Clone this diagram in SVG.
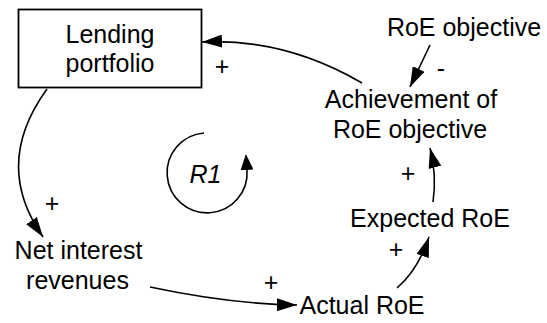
<svg xmlns="http://www.w3.org/2000/svg" width="547" height="323" viewBox="0 0 547 323">
  <style>
    text { font-family: "Liberation Sans", Arial, sans-serif; font-size: 25px; fill: #000; text-anchor: middle; }
    .link { fill: none; stroke: #000; stroke-width: 1.6; }
    .box { fill: #fff; stroke: #000; stroke-width: 1.8; }
  </style>
  <defs>
    <marker id="head" viewBox="0 0 20 13" refX="20" refY="6.5" markerWidth="20" markerHeight="13" markerUnits="userSpaceOnUse" orient="auto">
      <path d="M0,0 L20,6.5 L0,13 Z" fill="#000"/>
    </marker>
    <marker id="loophead" viewBox="0 0 16 13" refX="0" refY="6.5" markerWidth="16" markerHeight="13" markerUnits="userSpaceOnUse" orient="auto">
      <path d="M0,0 L16,6.5 L0,13 Z" fill="#000"/>
    </marker>
  </defs>

  <!-- causal links -->
  <g id="connectors">
    <path class="link" d="M362,83 Q285,38 202,42" marker-end="url(#head)"/>
    <path class="link" d="M47,89 C10,140 10,190 43,237" marker-end="url(#head)"/>
    <path class="link" d="M150,287 Q230,304 297,305" marker-end="url(#head)"/>
    <path class="link" d="M397,288 Q418,270 429,237" marker-end="url(#head)"/>
    <path class="link" d="M433,202 Q437,175 430,148" marker-end="url(#head)"/>
    <path class="link" d="M430,45 L410,87" marker-end="url(#head)"/>
    <text x="222" y="75">+</text>
    <text x="52" y="212">+</text>
    <text x="271" y="291">+</text>
    <text x="396" y="258">+</text>
    <text x="408" y="182">+</text>
    <text x="441" y="77">-</text>
  </g>

  <!-- reinforcing loop marker -->
  <g id="loop-r1">
    <path class="link" d="M204,133 A40,40 0 1 0 247,170" marker-end="url(#loophead)"/>
    <text x="205.5" y="183" font-style="italic">R1</text>
  </g>

  <g id="lending-portfolio">
    <rect class="box" x="18.5" y="9.5" width="183" height="78"/>
    <text x="110" y="43">Lending</text>
    <text x="110" y="72">portfolio</text>
  </g>

  <g id="roe-objective">
    <text x="464" y="36">RoE objective</text>
  </g>

  <g id="achievement">
    <text x="411" y="108">Achievement of</text>
    <text x="410" y="138">RoE objective</text>
  </g>

  <g id="expected-roe">
    <text x="430" y="227">Expected RoE</text>
  </g>

  <g id="actual-roe">
    <text x="362" y="314">Actual RoE</text>
  </g>

  <g id="net-interest">
    <text x="78.5" y="259">Net interest</text>
    <text x="77.5" y="289">revenues</text>
  </g>
</svg>
